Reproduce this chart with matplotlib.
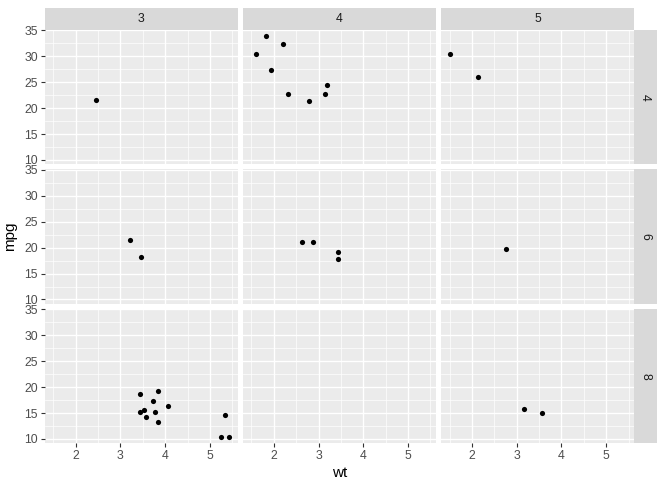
import matplotlib
matplotlib.use("Agg")
import matplotlib.pyplot as plt
import numpy as np

plt.rcParams['font.family'] = ['Liberation Sans', 'DejaVu Sans']

# mtcars data
mpg = [21.0, 21.0, 22.8, 21.4, 18.7, 18.1, 14.3, 24.4, 22.8, 19.2, 17.8, 16.4, 17.3, 15.2,
       10.4, 10.4, 14.7, 32.4, 30.4, 33.9, 21.5, 15.5, 15.2, 13.3, 19.2, 27.3, 26.0, 30.4,
       15.8, 19.7, 15.0, 21.4]
cyl = [6, 6, 4, 6, 8, 6, 8, 4, 4, 6, 6, 8, 8, 8, 8, 8, 8, 4, 4, 4, 4, 8, 8, 8, 8, 4, 4, 4,
       8, 6, 8, 4]
wt = [2.620, 2.875, 2.320, 3.215, 3.440, 3.460, 3.570, 3.190, 3.150, 3.440, 3.440, 4.070,
      3.730, 3.780, 5.250, 5.424, 5.345, 2.200, 1.615, 1.835, 2.465, 3.520, 3.435, 3.840,
      3.845, 1.935, 2.140, 1.513, 3.170, 2.770, 3.570, 2.780]
gear = [4, 4, 4, 3, 3, 3, 3, 4, 4, 4, 4, 3, 3, 3, 3, 3, 3, 4, 4, 4, 3, 3, 3, 3, 3, 4, 5, 5,
        5, 5, 5, 4]

row_levels = [4, 6, 8]
col_levels = [3, 4, 5]
x_ticks = [2, 3, 4, 5]
y_ticks = [10, 15, 20, 25, 30, 35]

W, H = 665, 488
fig = plt.figure(figsize=(W / 100, H / 100), dpi=100)

mpg = np.array(mpg); cyl = np.array(cyl); wt = np.array(wt); gear = np.array(gear)
xr = wt.max() - wt.min(); yr = mpg.max() - mpg.min()
xlim = (wt.min() - 0.05 * xr, wt.max() + 0.05 * xr)
ylim = (mpg.min() - 0.05 * yr, mpg.max() + 0.05 * yr)

left, right = 45, 634
top, bottom = 30, 443
gap = 5.5
pw = (right - left - 2 * gap) / 3
ph = (bottom - top - 2 * gap) / 3
strip = 22.5

def fax(x0, y0, w, h):
    return fig.add_axes([x0 / W, 1 - (y0 + h) / H, w / W, h / H])

tickcol = '#333333'
labcol = '#4D4D4D'
for i, r in enumerate(row_levels):
    for j, c in enumerate(col_levels):
        x0 = left + j * (pw + gap)
        y0 = top + i * (ph + gap)
        ax = fax(x0, y0, pw, ph)
        ax.set_facecolor('#EBEBEB')
        m = (cyl == r) & (gear == c)
        ax.scatter(wt[m], mpg[m], s=14, color='black', linewidths=0, zorder=3)
        ax.set_xlim(xlim); ax.set_ylim(ylim)
        ax.set_xticks(x_ticks)
        ax.set_yticks(y_ticks)
        ax.set_xticks([1.5, 2.5, 3.5, 4.5, 5.5], minor=True)
        ax.set_yticks([12.5, 17.5, 22.5, 27.5, 32.5], minor=True)
        ax.grid(True, which='major', color='white', linewidth=1.0)
        ax.grid(True, which='minor', color='white', linewidth=0.5)
        ax.set_axisbelow(True)
        for s in ax.spines.values():
            s.set_visible(False)
        ax.tick_params(which='minor', length=0)
        ax.tick_params(which='major', length=3, width=0.8, color=tickcol,
                       labelcolor=labcol, labelsize=8.8, pad=2)
        if j == 0:
            ax.set_yticklabels([str(t) for t in y_ticks])
        else:
            ax.tick_params(axis='y', length=0, labelleft=False)
        if i == 2:
            ax.set_xticklabels([str(t) for t in x_ticks])
        else:
            ax.tick_params(axis='x', length=0, labelbottom=False)
        if i == 0:
            sax = fax(x0, top - strip, pw, strip)
            sax.set_facecolor('#D9D9D9')
            sax.set_xticks([]); sax.set_yticks([])
            for s in sax.spines.values():
                s.set_visible(False)
            sax.text(0.5, 0.5, str(c), ha='center', va='center', fontsize=8.8,
                     color='#1A1A1A', transform=sax.transAxes)
        if j == 2:
            sax = fax(right, y0, strip, ph)
            sax.set_facecolor('#D9D9D9')
            sax.set_xticks([]); sax.set_yticks([])
            for s in sax.spines.values():
                s.set_visible(False)
            sax.text(0.5, 0.5, str(r), ha='center', va='center', fontsize=8.8,
                     color='#1A1A1A', rotation=-90, transform=sax.transAxes)

fig.text((left + right) / 2 / W, 1 - 473 / H, 'wt', ha='center', va='center', fontsize=11)
fig.text(10 / W, 1 - (top + bottom) / 2 / H, 'mpg', ha='center', va='center', fontsize=11,
         rotation=90)

fig.savefig('out.png', dpi=100)
